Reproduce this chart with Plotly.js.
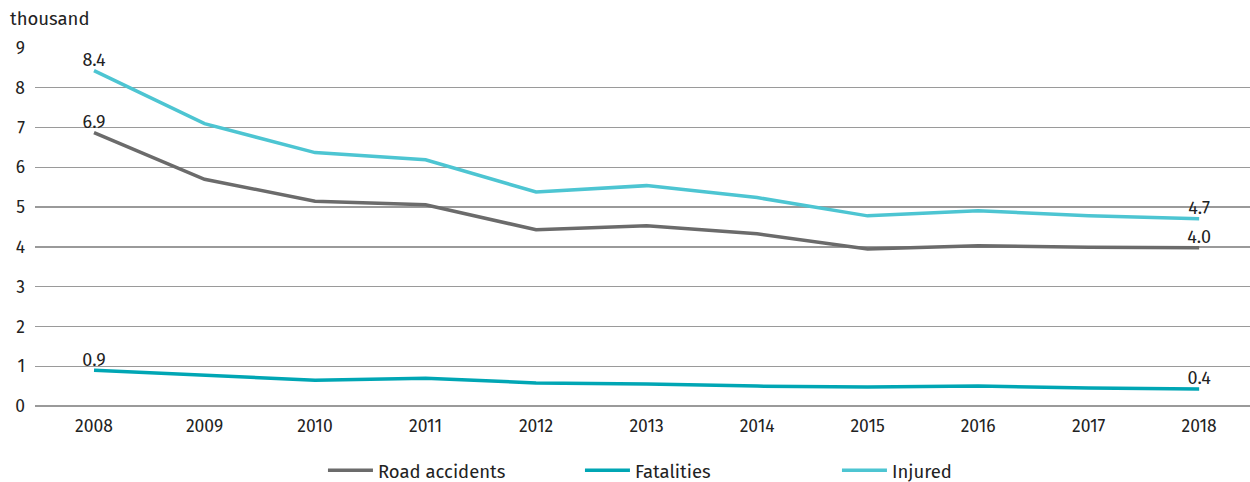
<!DOCTYPE html>
<html>
<head>
<meta charset="utf-8">
<script src="https://cdn.plot.ly/plotly-3.0.1.min.js"></script>
<style>html,body{margin:0;padding:0;background:#fff;}#chart{width:1250px;height:482px;}</style>
</head>
<body>
<div id="chart"></div>
<script>
var years = [2008, 2009, 2010, 2011, 2012, 2013, 2014, 2015, 2016, 2017, 2018];
var roadAccidents = [6.87, 5.70, 5.15, 5.06, 4.43, 4.53, 4.33, 3.95, 4.03, 3.99, 3.98];
var fatalities = [0.90, 0.78, 0.65, 0.70, 0.58, 0.55, 0.50, 0.48, 0.50, 0.45, 0.43];
var injured = [8.43, 7.10, 6.37, 6.19, 5.38, 5.54, 5.24, 4.78, 4.91, 4.78, 4.71];
var yTicks = [0, 1, 2, 3, 4, 5, 6, 7, 8, 9];

function endLabels(v) {
  return v.map(function (d, i) { return (i === 0 || i === v.length - 1) ? d.toFixed(1) : ''; });
}

var font = "'Fira Sans', 'Noto Sans', 'Open Sans', sans-serif";

function series(name, vals, color) {
  return {
    x: years, y: vals, name: name, type: 'scatter', mode: 'lines+text',
    text: endLabels(vals), textposition: 'top center',
    textfont: {family: font, size: 18, color: '#222'},
    line: {color: color, width: 3.5}, cliponaxis: false, hoverinfo: 'x+y'
  };
}

var data = [
  series('Road accidents', roadAccidents, '#6b6b6b'),
  series('Fatalities', fatalities, '#00a6b4'),
  series('Injured', injured, '#4dc5d2')
];

var layout = {
  width: 1250, height: 482,
  margin: {l: 35, r: 0, t: 48, b: 76, autoexpand: false},
  paper_bgcolor: '#fff', plot_bgcolor: '#fff',
  font: {family: font, size: 18, color: '#222'},
  xaxis: {
    range: [2007.466, 2018.46], tickvals: years, ticktext: years.map(String),
    showgrid: false, zeroline: false, showline: false, ticks: '',
    tickfont: {family: font, size: 17.5, color: '#222'}, ticklabelstandoff: 7, automargin: false
  },
  yaxis: {
    range: [0, 9], tickvals: yTicks, ticktext: yTicks.map(String),
    showgrid: true, gridcolor: '#9a9a9a', gridwidth: 1.3, zeroline: true, zerolinecolor: '#9a9a9a', zerolinewidth: 1.3,
    showline: false, ticks: '', tickfont: {family: font, size: 17.5, color: '#222'}, ticklabelstandoff: 9, automargin: false
  },
  showlegend: true,
  legend: {
    orientation: 'h', x: 0.237, xanchor: 'left', y: -0.128, yanchor: 'top',
    font: {family: font, size: 18.5, color: '#222'},
    entrywidth: 197, entrywidthmode: 'pixels', itemwidth: 45, traceorder: 'normal'
  },
  annotations: [{
    text: 'thousand', xref: 'paper', yref: 'paper', x: -0.022, y: 1.045,
    xanchor: 'left', yanchor: 'bottom', showarrow: false,
    font: {family: font, size: 18.5, color: '#222'}
  }]
};

Plotly.newPlot('chart', data, layout, {displayModeBar: false, staticPlot: true});
</script>
</body>
</html>
